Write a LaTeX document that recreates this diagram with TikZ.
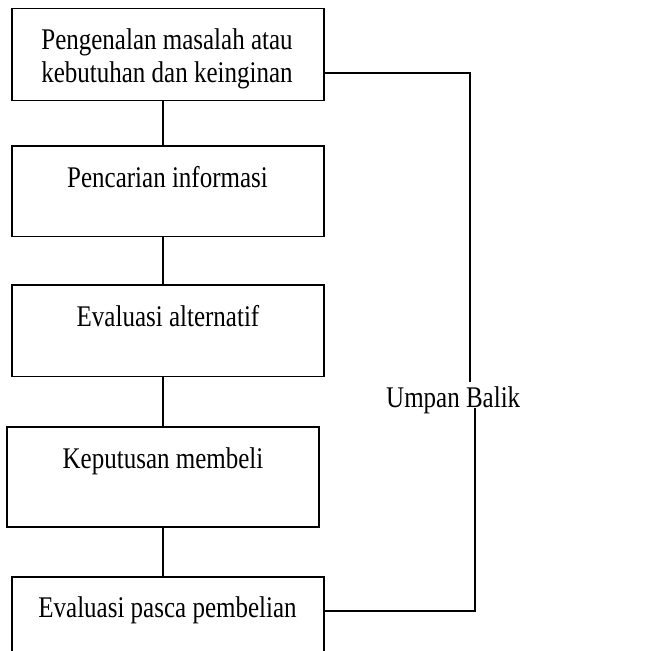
\documentclass[tikz,border=0pt]{standalone}
\usepackage{fontspec}
\setmainfont{Liberation Serif}
\newcommand{\tallt}[1]{\scalebox{1}[1.2]{#1}}
\begin{document}
\begin{tikzpicture}[x=1pt,y=1pt,
  box/.style={draw, rectangle, line width=1.1pt, minimum width=312pt, inner sep=0pt},
  lbl/.style={font=\fontsize{25}{33}\selectfont, anchor=base, inner sep=0pt, align=center},
  conn/.style={line width=1.1pt}]
\clip (0,0) rectangle (671,-650);
% boxes
\node[box, minimum height=92pt]   (b1) at (168,-54.7) {};
\node[box, minimum height=90.7pt] (b2) at (168,-191.3) {};
\node[box, minimum height=91.7pt] (b3) at (168,-330.8) {};
\node[box, minimum height=100pt]  (b4) at (163,-477) {};
\node[box, minimum height=100pt]  (b5) at (168,-627) {};
% texts
\node[lbl] (t1a) at (167,-50) {\tallt{Pengenalan masalah atau}};
\node[lbl] (t1b) at (167,-83) {\tallt{kebutuhan dan keinginan}};
\node[lbl] (t2) at (167.5,-187) {\tallt{Pencarian informasi}};
\node[lbl] (t3) at (168,-326) {\tallt{Evaluasi alternatif}};
\node[lbl] (t4) at (163,-468) {\tallt{Keputusan membeli}};
\node[lbl] (t5) at (167.5,-617) {\tallt{Evaluasi pasca pembelian}};
\node[lbl, anchor=base west] (ub) at (386,-407) {\tallt{Umpan Balik}};
% vertical connectors
\draw[conn] ([xshift=-5pt]b1.south) -- ([xshift=-5pt]b2.north);
\draw[conn] ([xshift=-5pt]b2.south) -- ([xshift=-5pt]b3.north);
\draw[conn] ([xshift=-5pt]b3.south) -- (b4.north);
\draw[conn] (b4.south) -- ([xshift=-5pt]b5.north);
% feedback
\coordinate (f1) at (470,-73);
\coordinate (f2) at (470,-382);
\coordinate (f3) at (475,-408);
\coordinate (f4) at (475,-611);
\draw[conn] (b1.east |- f1) -- (f1) -- (f2);
\draw[conn] (f3) -- (f4) -- (b5.east |- f4);
\end{tikzpicture}
\end{document}
